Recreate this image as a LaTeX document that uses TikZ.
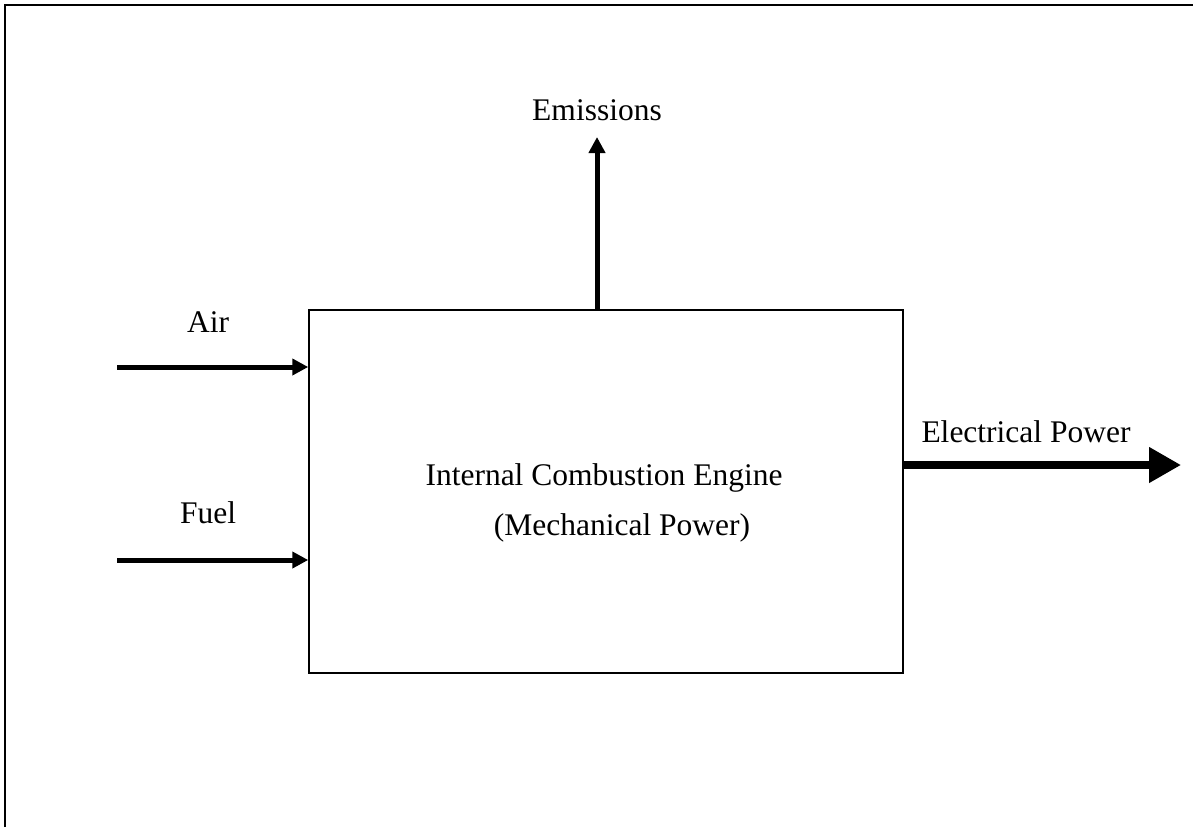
\documentclass[tikz,border=0pt]{standalone}
\usepackage{fontspec}
\setmainfont{Liberation Serif}
\usetikzlibrary{arrows.meta}
\begin{document}
\begin{tikzpicture}[x=1pt,y=-1pt,
  lbl/.style={inner sep=0pt,font=\fontsize{31.5}{38}\selectfont},
  flow/.style={line width=5pt,-{Triangle[length=16pt,width=16pt]}},
  bigflow/.style={line width=7.5pt,-{Triangle[length=32pt,width=34pt]}}]
\useasboundingbox (0,0) rectangle (1193,827);
% frame
\draw[line width=2pt] (5,827) -- (5,5) -- (1193,5);
% engine box
\node[draw,line width=1.5pt,minimum width=594pt,minimum height=363pt,inner sep=0pt] (engine) at (606,491.5) {};
\node[lbl] (l1) at (604,478) {Internal Combustion Engine};
\node[lbl] (l2) at (622,528) {(Mechanical Power)};
% inputs
\coordinate (airS) at (117,367);
\coordinate (airE) at (engine.west |- airS);
\coordinate (fuelS) at (117,560);
\coordinate (fuelE) at (engine.west |- fuelS);
\draw[flow] (airS) -- (airE);
\draw[flow] (fuelS) -- (fuelE);
\node[lbl] (air) at (208,322) {Air};
\node[lbl] (fuel) at (208,513) {Fuel};
% emissions
\coordinate (emS) at (engine.north -| 597,0);
\coordinate (emE) at (597,137);
\draw[flow] (emS) -- (emE);
\node[lbl] (em) at (597,110) {Emissions};
% electrical power
\coordinate (epS) at (engine.east |- 0,465);
\coordinate (epE) at (1181,465);
\draw[bigflow] (epS) -- (epE);
\node[lbl] (ep) at (1026,432) {Electrical Power};
\end{tikzpicture}
\end{document}
